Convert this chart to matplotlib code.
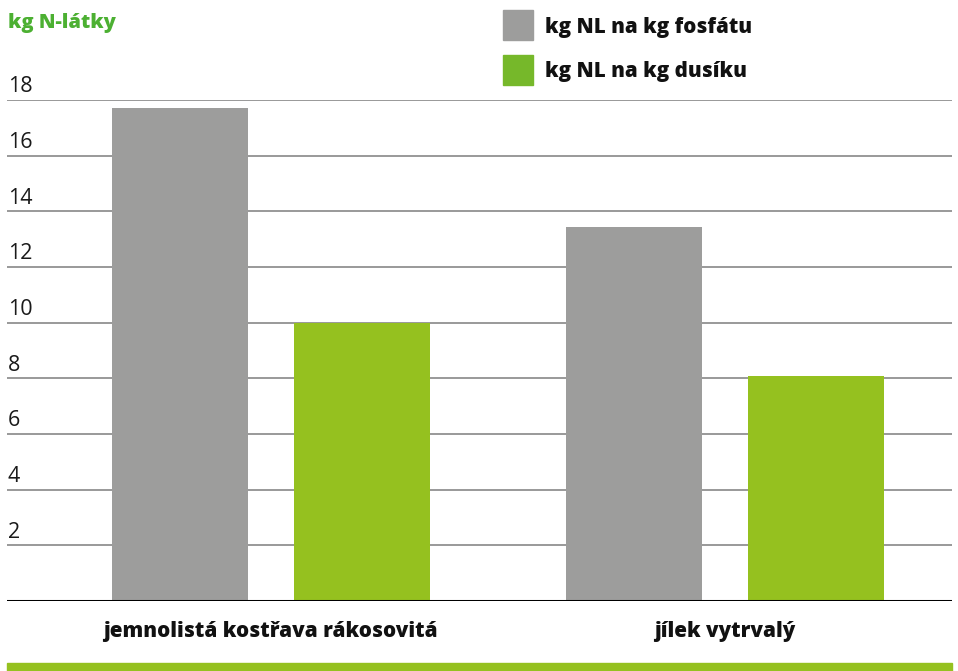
import matplotlib.pyplot as plt
from matplotlib.patches import Rectangle

# data
categories = ['jemnolistá kostřava rákosovitá', 'jílek vytrvalý']
fosfat = [17.7, 13.45]
dusik = [10.0, 8.1]
series_names = ['kg NL na kg fosfátu', 'kg NL na kg dusíku']
yticks = [2, 4, 6, 8, 10, 12, 14, 16, 18]

gray = '#9d9d9c'
green = '#95c11f'
green_legend = '#76b82a'
green_title = '#4cb032'

plt.rcParams['font.family'] = ['Open Sans', 'DejaVu Sans']

W, H = 958, 671
fig = plt.figure(figsize=(W / 100, H / 100), dpi=100)
ax = fig.add_axes([7 / W, (H - 601) / H, (952 - 7) / W, (601 - 100) / H])

x = range(len(categories))
ax.bar([i - 0.2 for i in x], fosfat, width=0.3, color=gray, zorder=2)
ax.bar([i + 0.2 for i in x], dusik, width=0.3, color=green, zorder=2)

ax.set_xlim(-0.581, 1.5)
ax.set_ylim(0, 18)
for t in yticks:
    ax.axhline(t, color='#878787', lw=1.2, zorder=1)
    ax.text(0.001, t + 0.1, str(t), transform=ax.get_yaxis_transform(),
            fontsize=15.5, color='#1a1a1a', ha='left', va='bottom')
ax.axhline(0, color='black', lw=2.2, zorder=3)

for s in ax.spines.values():
    s.set_visible(False)
ax.set_xticks([])
ax.set_yticks([])

for i, c in enumerate(categories):
    ax.text(i, -1.1, c, fontsize=14.9, fontweight='heavy', ha='center', va='center',
            color='#111111')

# title
fig.text(8 / W, 1 - 23 / H, 'kg N-látky', fontsize=14.5, fontweight='heavy',
         color=green_title, ha='left', va='center')

# legend
for k, (name, col) in enumerate(zip(series_names, [gray, green_legend])):
    yc = 25 + 45 * k
    fig.patches.append(Rectangle((503 / W, 1 - (yc + 15) / H), 30 / W, 30 / H,
                                 transform=fig.transFigure, color=col))
    fig.text(545 / W, 1 - (yc + 2) / H, name, fontsize=14.8, fontweight='heavy',
             color='#111111', ha='left', va='center')

# bottom band
fig.patches.append(Rectangle((7 / W, 0), (952 - 7) / W, 8 / H,
                             transform=fig.transFigure, color=green))

fig.savefig('out.png', dpi=100)
